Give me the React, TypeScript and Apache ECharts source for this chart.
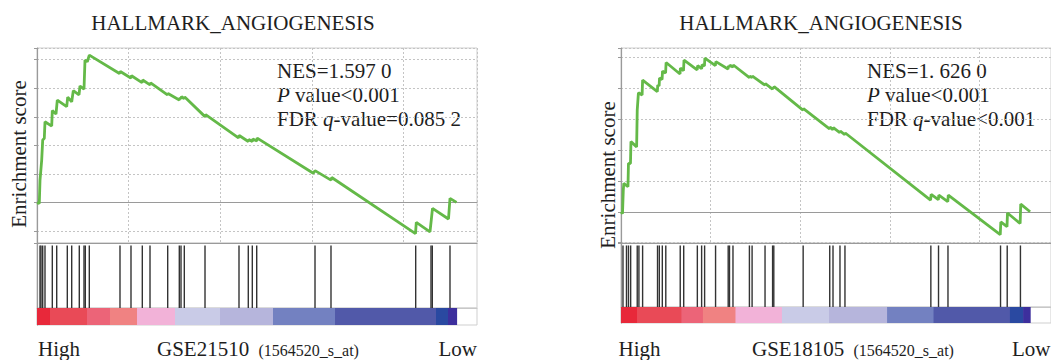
import React, { useEffect, useRef } from 'react';
import * as echarts from 'echarts';

const TITLE = 'HALLMARK_ANGIOGENESIS';
const Y_NAME = 'Enrichment score';
const PROBE = '(1564520_s_at)';
const RANK_MAX = 24000;
const RANK_STEP = 5000;

// ---- Left panel: GSE21510 ----
const LEFT_DATASET = 'GSE21510';
const LEFT_STATS = ['NES=1.597 0', '{i|P} value<0.001', 'FDR {i|q}-value=0.085 2'];
const LEFT_ES_RANK = [0, 125, 164, 256, 311, 398, 436, 802, 835, 1036, 1107, 1620, 1675, 1893, 1980, 2291, 2345, 2564, 2618, 2744, 2853, 4500, 4544, 5116, 5155, 5727, 5765, 6164, 6196, 7118, 7145, 7762, 7789, 7855, 7882, 8029, 8056, 9164, 9196, 10991, 11029, 11525, 11553, 11744, 11771, 11984, 12011, 15071, 15164, 16036, 16074, 20645, 20689, 21436, 21507, 21573, 22445, 22527, 22882];
const LEFT_ES_VALUE = [0, -0.003, 0.079, 0.149, 0.219, 0.225, 0.283, 0.268, 0.322, 0.31, 0.359, 0.336, 0.369, 0.353, 0.392, 0.377, 0.408, 0.397, 0.499, 0.493, 0.516, 0.452, 0.459, 0.436, 0.444, 0.42, 0.429, 0.412, 0.419, 0.377, 0.382, 0.359, 0.366, 0.364, 0.371, 0.364, 0.37, 0.301, 0.308, 0.227, 0.235, 0.214, 0.221, 0.214, 0.223, 0.216, 0.226, 0.103, 0.112, 0.079, 0.088, -0.108, -0.069, -0.102, -0.06, -0.02, -0.057, 0.015, 0.001];
const LEFT_HITS = [164, 218, 311, 436, 835, 1075, 1653, 1893, 2307, 2564, 2635, 2853, 4527, 5127, 5744, 6164, 7129, 7762, 7855, 8035, 9164, 11018, 11525, 11744, 11984, 15164, 16036, 20656, 21491, 21562, 22527];
const LEFT_BAR_EDGES = [0, 709, 2727, 3982, 5455, 7527, 9982, 12873, 16255, 21764, 22418, 22882];

// ---- Right panel: GSE18105 ----
const RIGHT_DATASET = 'GSE18105';
const RIGHT_STATS = ['NES=1. 626 0', '{i|P} value<0.001', 'FDR {i|q}-value<0.001'];
const RIGHT_ES_RANK = [0, 83, 128, 156, 389, 417, 528, 556, 872, 906, 972, 1178, 1206, 2028, 2050, 2128, 2150, 2294, 2317, 2489, 2517, 3294, 3317, 3489, 3517, 4250, 4278, 4500, 4528, 4656, 4683, 5267, 5294, 5972, 6000, 6056, 6083, 6239, 6267, 7167, 7189, 7311, 7333, 8033, 8056, 8456, 8478, 8522, 8544, 10156, 10183, 11639, 11667, 11822, 11850, 12211, 12239, 12489, 12517, 17278, 17311, 17711, 17739, 18239, 18267, 21167, 21200, 21544, 21572, 22278, 22311, 22833];
const RIGHT_ES_VALUE = [0, -0.006, 0.07, 0.092, 0.081, 0.157, 0.156, 0.227, 0.21, 0.329, 0.385, 0.378, 0.426, 0.389, 0.41, 0.407, 0.433, 0.428, 0.455, 0.449, 0.483, 0.446, 0.465, 0.457, 0.491, 0.459, 0.473, 0.463, 0.476, 0.472, 0.497, 0.473, 0.486, 0.462, 0.472, 0.468, 0.475, 0.468, 0.475, 0.434, 0.439, 0.434, 0.439, 0.41, 0.415, 0.397, 0.402, 0.4, 0.405, 0.329, 0.334, 0.268, 0.274, 0.266, 0.272, 0.256, 0.261, 0.25, 0.255, 0.038, 0.056, 0.039, 0.054, 0.033, 0.054, -0.074, -0.033, -0.048, -0.004, -0.038, 0.025, 0];
const RIGHT_HITS = [111, 306, 417, 539, 906, 1000, 1206, 2039, 2139, 2306, 2500, 3306, 3500, 4261, 4500, 4667, 5278, 5983, 6056, 6250, 7167, 7317, 8039, 8461, 8528, 10167, 11650, 11833, 12222, 12500, 17294, 17722, 18250, 21183, 21556, 22294];
const RIGHT_BAR_EDGES = [0, 906, 3372, 4572, 6389, 8983, 11611, 14850, 17444, 21706, 22444, 22833];

const BAR_COLORS = ['#e8283a', '#e94a57', '#ec6478', '#f08282', '#f2b2d8', '#c9cbe7', '#b6b5dc', '#7381c1', '#5159a9', '#2a49a1', '#3d2f9d'];

const FONT = "'Liberation Serif', 'Times New Roman', Times, serif";
const TEXT_COLOR = '#1e1e1e';
const CURVE_COLOR = '#64b948';

function txt(text: string, x: number, y: number, o: any = {}) {
  const align = o.align || 'left';
  const size = o.size || 21;
  return {
    type: 'text',
    x,
    y,
    rotation: o.rotation || 0,
    style: {
      text,
      fontSize: size,
      fontFamily: FONT,
      fill: TEXT_COLOR,
      align,
      verticalAlign: 'middle',
      textAlign: align,
      textVerticalAlign: 'middle',
      rich: {
        i: { fontStyle: 'italic', fontSize: size, fontFamily: FONT, fill: TEXT_COLOR },
      },
    },
  };
}

function buildOption() {
  const panels = [
    {
      left: 37, width: 440, esMin: -0.141, esMax: 0.541, hitsH: 65, barTop: 308, barH: 17,
      rank: LEFT_ES_RANK, value: LEFT_ES_VALUE, hits: LEFT_HITS, edges: LEFT_BAR_EDGES,
    },
    {
      left: 621, width: 432, esMin: -0.101, esMax: 0.53, hitsH: 64, barTop: 307, barH: 16,
      rank: RIGHT_ES_RANK, value: RIGHT_ES_VALUE, hits: RIGHT_HITS, edges: RIGHT_BAR_EDGES,
    },
  ];
  const grid: any[] = [];
  const xAxis: any[] = [];
  const yAxis: any[] = [];
  const series: any[] = [];
  panels.forEach((p, k) => {
    const g = k * 3;
    grid.push({ left: p.left, width: p.width, top: 48, height: 195, show: true, borderColor: '#cfcfcf', borderWidth: 1 });
    grid.push({ left: p.left, width: p.width, top: 243, height: p.hitsH, show: true, borderColor: '#cfcfcf', borderWidth: 1 });
    grid.push({ left: p.left, width: p.width, top: p.barTop, height: p.barH, show: true, borderColor: '#cfcfcf', borderWidth: 1 });
    const baseX = { type: 'value', min: 0, max: RANK_MAX, axisLabel: { show: false }, axisTick: { show: false } };
    xAxis.push({
      ...baseX, gridIndex: g, interval: RANK_STEP,
      splitLine: { show: true, lineStyle: { type: [2, 2], color: '#c4c4c4', width: 1 } },
      axisLine: { show: true, onZero: true, lineStyle: { color: '#9a9a9a', width: 1 } },
    });
    xAxis.push({
      ...baseX, gridIndex: g + 1, position: 'top', splitLine: { show: false },
      axisLine: { show: true, onZero: false, lineStyle: { color: '#9a9a9a', width: 1 } },
    });
    xAxis.push({
      ...baseX, gridIndex: g + 2, position: 'top', splitLine: { show: false },
      axisLine: { show: true, onZero: false, lineStyle: { color: '#c8c8c8', width: 1 } },
    });
    yAxis.push({
      type: 'value', gridIndex: g, min: p.esMin, max: p.esMax, splitNumber: 6,
      splitLine: { show: true, lineStyle: { type: [2, 2], color: '#c4c4c4', width: 1 } },
      axisLine: { show: true, onZero: false, lineStyle: { color: '#9a9a9a', width: 1.2 } },
      axisTick: { show: true, length: 3, lineStyle: { color: '#9a9a9a' } },
      axisLabel: { show: false },
    });
    yAxis.push({
      type: 'value', gridIndex: g + 1, min: 0, max: 1.04, splitLine: { show: false },
      axisLine: { show: true, onZero: false, lineStyle: { color: '#9a9a9a', width: 1.2 } },
      axisTick: { show: false }, axisLabel: { show: false },
    });
    yAxis.push({
      type: 'value', gridIndex: g + 2, min: 0, max: 1, splitLine: { show: false },
      axisLine: { show: true, onZero: false, lineStyle: { color: '#9a9a9a', width: 1.2 } },
      axisTick: { show: false }, axisLabel: { show: false },
    });
    series.push({
      type: 'line', xAxisIndex: g, yAxisIndex: g, z: 5,
      data: p.rank.map((r, i) => [r, p.value[i]]),
      showSymbol: false, symbol: 'none',
      lineStyle: { color: CURVE_COLOR, width: 2.8 },
    });
    series.push({
      type: 'custom', xAxisIndex: g + 1, yAxisIndex: g + 1,
      data: p.hits.map((h) => [h, 1]),
      encode: { x: 0, y: 1 },
      renderItem: (_params: any, api: any) => {
        const b = api.coord([api.value(0), 0]);
        const t = api.coord([api.value(0), 1]);
        return { type: 'line', shape: { x1: b[0], y1: t[1], x2: b[0], y2: b[1] }, style: { stroke: '#333333', lineWidth: 1.4 } };
      },
    });
    const segs = p.edges.slice(0, -1).map((e, i) => [e, p.edges[i + 1], i, 0.5]);
    series.push({
      type: 'custom', xAxisIndex: g + 2, yAxisIndex: g + 2,
      data: segs,
      encode: { x: [0, 1], y: 3 },
      renderItem: (_params: any, api: any) => {
        const a = api.coord([api.value(0), 1]);
        const b = api.coord([api.value(1), 0]);
        return {
          type: 'rect',
          shape: { x: a[0], y: a[1], width: b[0] - a[0] + 0.6, height: b[1] - a[1] },
          style: { fill: BAR_COLORS[api.value(2)] },
        };
      },
    });
  });

  const graphic: any[] = [
    txt(TITLE, 233, 23, { align: 'center' }),
    txt(Y_NAME, 19, 154, { align: 'center', rotation: Math.PI / 2 }),
    txt(LEFT_STATS[0], 277, 70.5),
    txt(LEFT_STATS[1], 277, 94.5),
    txt(LEFT_STATS[2], 277, 118.5),
    txt('High', 38, 348.5),
    txt(LEFT_DATASET, 157, 348.5),
    txt(PROBE, 258.5, 350.5, { size: 16 }),
    txt('Low', 477, 348.5, { align: 'right' }),

    txt(TITLE, 821, 23, { align: 'center' }),
    txt(Y_NAME, 608, 175, { align: 'center', rotation: Math.PI / 2 }),
    txt(RIGHT_STATS[0], 867, 70.5),
    txt(RIGHT_STATS[1], 867, 94.5),
    txt(RIGHT_STATS[2], 867, 118.5),
    txt('High', 618.5, 348.5),
    txt(RIGHT_DATASET, 752, 348.5),
    txt(PROBE, 853.5, 350.5, { size: 16 }),
    txt('Low', 1012, 348.5),
  ];

  return {
    animation: false,
    backgroundColor: '#ffffff',
    grid,
    xAxis,
    yAxis,
    series,
    graphic,
  };
}

export default function App() {
  const ref = useRef<HTMLDivElement>(null);
  useEffect(() => {
    if (!ref.current) return;
    const chart = echarts.init(ref.current, null, { renderer: 'svg' });
    chart.setOption(buildOption() as any);
    return () => chart.dispose();
  }, []);
  return (
    <div
      ref={ref}
      style={{ position: 'fixed', left: 0, top: 0, width: 1051, height: 360, background: '#fff' }}
    />
  );
}
